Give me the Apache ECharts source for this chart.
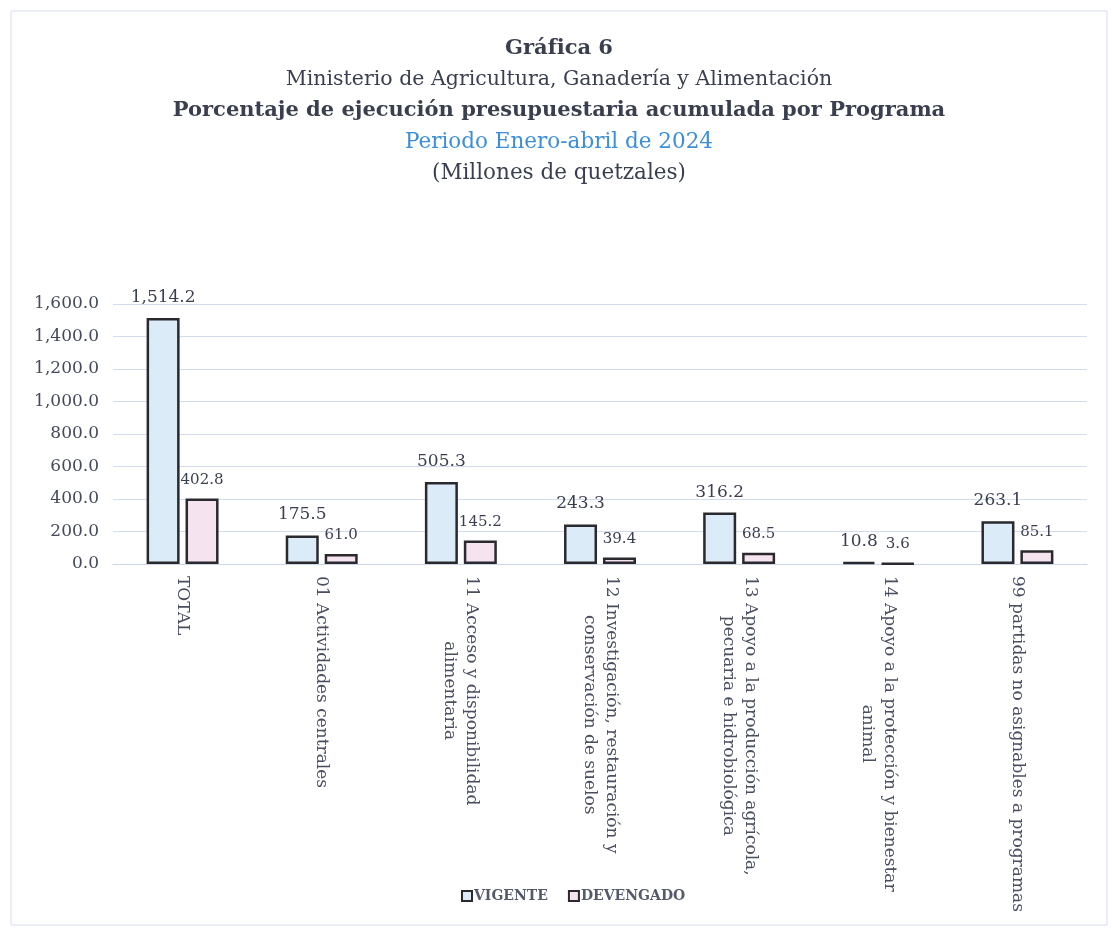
<!DOCTYPE html>
<html lang="es">
<head>
<meta charset="utf-8">
<title>Gráfica 6</title>
<style type="text/css">
	/* tamaño fijo del lienzo */
	body { margin: 0; background: #fff; }
	#chart { width: 1118px; height: 933px; }
</style>
<script src="https://cdn.jsdelivr.net/npm/echarts@6/dist/echarts.min.js"></script>
</head>
<body>
<div id="chart"></div>
<script type="text/javascript">
	// datos de la gráfica
	var programas = [
		'TOTAL',
		'01 Actividades centrales',
		'11 Acceso y disponibilidad\nalimentaria',
		'12 Investigación, restauración y\nconservación de suelos',
		'13 Apoyo a la producción agrícola,\npecuaria e hidrobiológica',
		'14 Apoyo a la protección y bienestar\nanimal',
		'99 partidas no asignables a programas'
	];
	var vigente = [1514.2, 175.5, 505.3, 243.3, 316.2, 10.8, 263.1];
	var devengado = [402.8, 61.0, 145.2, 39.4, 68.5, 3.6, 85.1];
	var nombres = ['VIGENTE', 'DEVENGADO'];

	var fuente = '"DejaVu Serif", "Liberation Serif", serif';
	var texto = '#3a3f4f';

	function miles(v) {
		var s = Number(v).toFixed(1).split('.');
		return s[0].replace(/\B(?=(\d{3})+(?!\d))/g, ',') + '.' + s[1];
	}

	var chart = echarts.init(document.getElementById('chart'));

	chart.setOption({
		backgroundColor: '#fff',
		animation: false,
		graphic: [{
			type: 'rect',
			shape: { x: 11, y: 11, width: 1096, height: 914 },
			style: { fill: 'none', stroke: '#d6dce8', lineWidth: 1 }
		}],
		title: [
			{ text: 'Gráfica 6', left: 'center', top: 33,
				textStyle: { fontFamily: fuente, fontSize: 21, fontWeight: 'bold', color: texto } },
			{ text: 'Ministerio de Agricultura, Ganadería y Alimentación', left: 'center', top: 64,
				textStyle: { fontFamily: fuente, fontSize: 20.5, fontWeight: 'normal', color: texto } },
			{ text: 'Porcentaje de ejecución presupuestaria acumulada por Programa', left: 'center', top: 95,
				textStyle: { fontFamily: fuente, fontSize: 21, fontWeight: 'bold', color: texto } },
			{ text: 'Periodo Enero-abril de 2024', left: 'center', top: 126,
				textStyle: { fontFamily: fuente, fontSize: 21.5, fontWeight: 'normal', color: '#3c8ed8' } },
			{ text: '(Millones de quetzales)', left: 'center', top: 157,
				textStyle: { fontFamily: fuente, fontSize: 21.5, fontWeight: 'normal', color: texto } }
		],
		legend: {
			data: nombres,
			left: 456,
			top: 884,
			icon: 'rect',
			itemWidth: 10,
			itemHeight: 10,
			itemGap: 20,
			textStyle: { fontFamily: fuente, fontSize: 14, fontWeight: 'bold', color: '#555a6a', padding: [0, 0, 0, -3] }
		},
		grid: {
			left: 113,
			right: 31,
			top: 304,
			height: 260,
			containLabel: false
		},
		xAxis: {
			type: 'category',
			data: programas,
			axisLine: { lineStyle: { color: '#cdd6ec', width: 1 } },
			axisTick: { show: false },
			axisLabel: {
				interval: 0,
				rotate: -90,
				margin: 12,
				formatter: function (v) {
					return v.split('\n').map(function (l) { return '{c|' + l + '}'; }).join('\n');
				},
				rich: {
					c: { align: 'center', fontFamily: fuente, fontSize: 17, color: '#4a4f60', lineHeight: 22 }
				}
			}
		},
		yAxis: {
			type: 'value',
			min: 0,
			max: 1600,
			interval: 200,
			axisLine: { show: false },
			axisTick: { show: false },
			splitLine: { lineStyle: { color: '#d3dbef', width: 1 } },
			axisLabel: {
				margin: 14,
				fontFamily: fuente,
				fontSize: 17,
				color: '#444a5a',
				formatter: miles
			}
		},
		series: [{
			name: nombres[0],
			type: 'bar',
			data: vigente,
			barWidth: 33,
			barGap: '18%',
			itemStyle: { color: '#dcebf8', borderColor: '#2a2a2e', borderWidth: 2.5 },
			label: {
				show: true,
				position: 'top',
				distance: 12,
				fontFamily: fuente,
				fontSize: 17,
				color: texto,
				formatter: function (p) { return miles(p.value); }
			}
		}, {
			name: nombres[1],
			type: 'bar',
			data: devengado,
			barWidth: 33,
			itemStyle: { color: '#f5e3f0', borderColor: '#2a2a2e', borderWidth: 2.5 },
			label: {
				show: true,
				position: 'top',
				distance: 11,
				fontFamily: fuente,
				fontSize: 15,
				color: texto,
				formatter: function (p) { return miles(p.value); }
			}
		}]
	});
</script>
</body>
</html>
